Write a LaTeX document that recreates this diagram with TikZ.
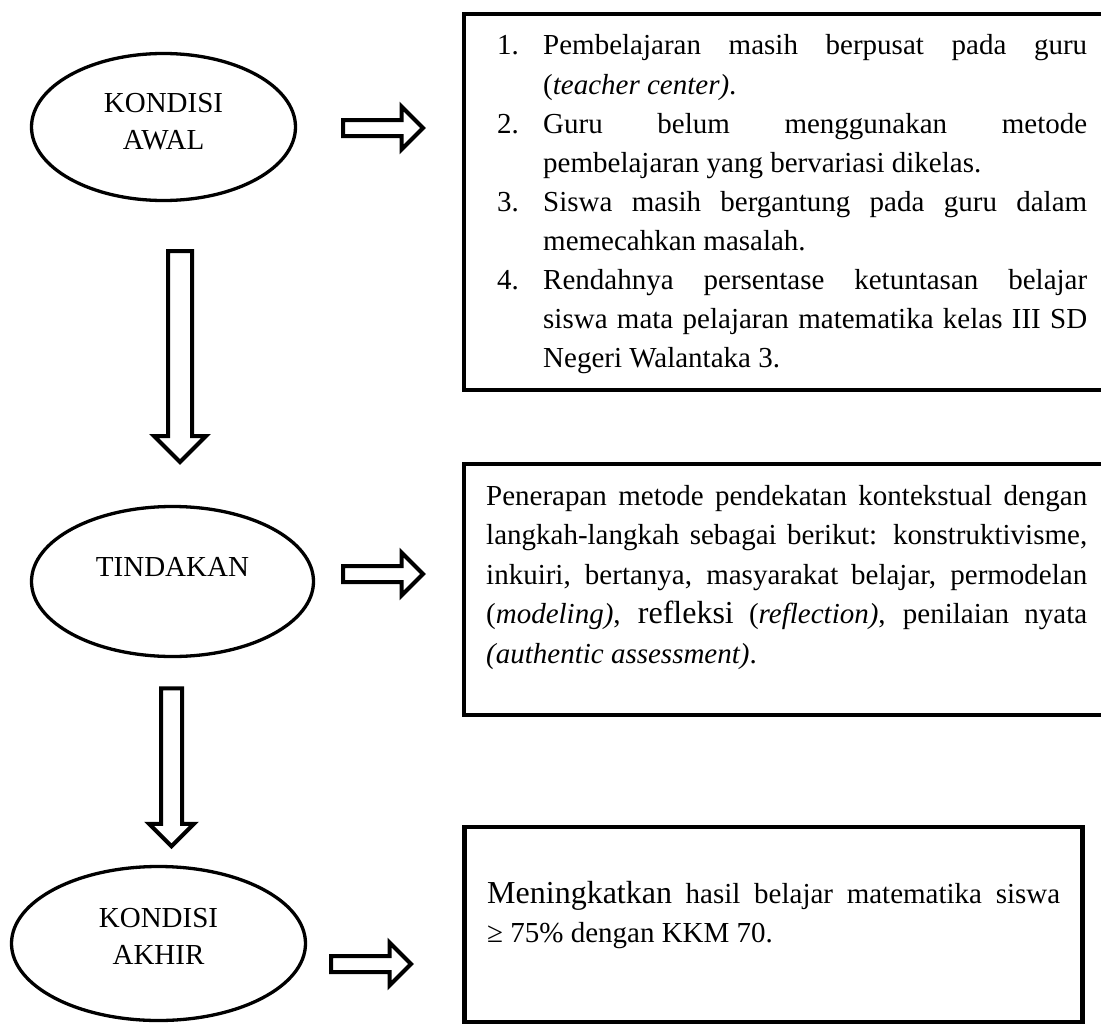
\documentclass[tikz,border=0pt]{standalone}
\usepackage{fontspec}
\setmainfont{Liberation Serif}
\usetikzlibrary{shapes.geometric, shapes.arrows, positioning}

% numbered point with hanging indent
\newcommand{\pointitem}[2]{\noindent\hangindent=46pt\hangafter=1\makebox[46pt][l]{#1.}#2\par}

\begin{document}
\begin{tikzpicture}[
        x=1pt, y=-1pt,
        font=\fontsize{29}{39.1}\selectfont,
        stage/.style={draw, ellipse, line width=3.3pt, align=center, inner sep=0pt, font=\fontsize{29}{37}\selectfont},
        panel/.style={draw, rectangle, line width=4.5pt, inner sep=0pt},
        paneltext/.style={align=justify, inner sep=0pt, anchor=base west},
        blockarrow/.style={draw, single arrow, line width=4pt, fill=white, minimum width=0pt}
        ]

        \clip (0,0) rectangle (1101,1025);

        % Stages on the left
        \node[stage, minimum width=264, minimum height=147, text depth=12pt] (awal) at (163.5,127) {KONDISI\\AWAL};
        \node[stage, minimum width=282, minimum height=150, text depth=29pt] (tindakan) at (172.5,581.5) {TINDAKAN};
        \node[stage, minimum width=294, minimum height=154, text depth=14pt] (akhir) at (158.5,943.5) {KONDISI\\AKHIR};

        % Boxes on the right
        \node[panel, minimum width=656, minimum height=376] (box-awal) at (792,202) {};
        \node[panel, minimum width=656, minimum height=251] (box-tindakan) at (792,589.5) {};
        \node[panel, minimum width=618, minimum height=195] (box-akhir) at (773.5,924.5) {};

        % Texts of the boxes
        \node[paneltext, text width=590] (txt-awal) at (497,55) {%
            \pointitem{1}{Pembelajaran masih berpusat pada guru\linebreak (\textit{teacher center)}.}%
            \pointitem{2}{Guru belum menggunakan metode\linebreak pembelajaran yang bervariasi dikelas.}%
            \pointitem{3}{Siswa masih bergantung pada guru dalam\linebreak memecahkan masalah.}%
            \pointitem{4}{Rendahnya persentase ketuntasan belajar\linebreak siswa mata pelajaran matematika kelas III SD\linebreak Negeri Walantaka 3.}};
        \node[paneltext, text width=601, font=\fontsize{29}{39.5}\selectfont] (txt-tindakan) at (486,505) {%
            Penerapan metode pendekatan kontekstual dengan\linebreak
            langkah-langkah sebagai berikut: konstruktivisme,\linebreak
            inkuiri, bertanya, masyarakat belajar, permodelan\linebreak
            (\textit{modeling)}, {\fontsize{32}{39.5}\selectfont refleksi} (\textit{reflection)}, penilaian nyata\linebreak
            \textit{(authentic assessment)}.};
        \node[paneltext, text width=573, font=\fontsize{29}{39}\selectfont] (txt-akhir) at (487,903) {%
            {\fontsize{32}{39}\selectfont Meningkatkan} hasil belajar matematika siswa\linebreak
            ≥ 75\% dengan KKM 70.};

        % Block arrows
        \foreach \name/\y in {awal/128, tindakan/574}
            \node[blockarrow, minimum height=80, inner sep=6pt, single arrow head extend=13.5pt] (arr-\name) at (379,\y) {};
        \node[blockarrow, minimum height=80, inner sep=6pt, single arrow head extend=13.5pt] (arr-akhir) at (367,964) {};
        \node[blockarrow, rotate=-90, minimum height=211, inner sep=10pt, single arrow head extend=14pt] (down-awal) at (180,350.5) {};
        \node[blockarrow, rotate=-90, minimum height=158, inner sep=8.5pt, single arrow head extend=12pt] (down-tindakan) at (171.5,762) {};

\end{tikzpicture}
\end{document}
